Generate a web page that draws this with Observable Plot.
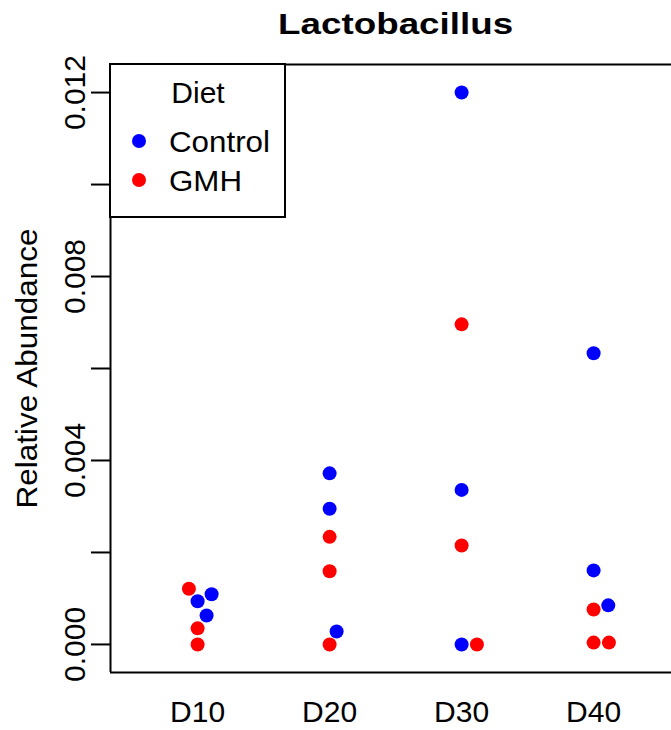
<!DOCTYPE html>
<html>
<head>
<meta charset="utf-8">
<script src="https://cdn.jsdelivr.net/npm/d3@7"></script>
<script src="https://cdn.jsdelivr.net/npm/@observablehq/plot@0.6"></script>
<style>
  html, body { margin: 0; padding: 0; background: #fff; }
  #chart svg { display: block; }
</style>
</head>
<body>
<div id="chart"></div>
<script>
// Lactobacillus relative abundance by sampling day and diet (strip chart)
const days = ["D10", "D20", "D30", "D40"];
const diets = ["Control", "GMH"];
const dietColors = ["#0000ff", "#ff0000"];

// Control group: day, relative abundance, horizontal jitter (category units)
const controlDays   = ["D10", "D10", "D10", "D20", "D20", "D20", "D30", "D30", "D30", "D40", "D40", "D40"];
const controlValues = [0.00109, 0.00094, 0.00063, 0.00372, 0.00295, 0.00028, 0.01200, 0.00336, 0.00000, 0.00633, 0.00161, 0.00085];
const controlJitter = [0.106, 0, 0.068, 0, 0, 0.053, 0, 0, 0, 0, 0, 0.111];

// GMH group
const gmhDays   = ["D10", "D10", "D10", "D20", "D20", "D20", "D30", "D30", "D30", "D40", "D40", "D40"];
const gmhValues = [0.00121, 0.00035, 0.00000, 0.00234, 0.00159, 0.00000, 0.00696, 0.00215, 0.00000, 0.00076, 0.00004, 0.00004];
const gmhJitter = [-0.066, 0, 0, 0, 0, 0, 0, 0, 0.116, 0, 0, 0.116];

// y axis ticks and the subset that carries labels
const yTicks = [0, 0.002, 0.004, 0.006, 0.008, 0.010, 0.012];
const yLabels = [0, 0.004, 0.008, 0.012];

const title = "Lactobacillus";
const yTitle = "Relative Abundance";
const legendTitle = "Diet";

const FONT = "'Liberation Sans', Arial, Helvetica, sans-serif";
const fmt = d3.format(".3f");
const xDomain = [0.34, 4.59];
const yDomain = [-0.00061, 0.01261];

const rows = [
  ...controlValues.map((v, i) => ({diet: "Control", day: controlDays[i], value: v, jitter: controlJitter[i]})),
  ...gmhValues.map((v, i) => ({diet: "GMH", day: gmhDays[i], value: v, jitter: gmhJitter[i]}))
];
rows.forEach(d => { d.pos = days.indexOf(d.day) + 1 + d.jitter; });

const chart = Plot.plot({
  width: 671,
  height: 730,
  marginTop: 64,
  marginRight: 0,
  marginBottom: 58,
  marginLeft: 110,
  style: {fontFamily: FONT, fontSize: "30px", color: "#000", background: "#fff"},
  x: {type: "linear", domain: xDomain, axis: null},
  y: {domain: yDomain, axis: null},
  color: {domain: diets, range: dietColors},
  marks: [
    // plot box (top, bottom, left)
    Plot.ruleY([yDomain[0], yDomain[1]], {stroke: "#000", strokeWidth: 2}),
    Plot.ruleX([xDomain[0]], {stroke: "#000", strokeWidth: 2}),
    // y tick marks hanging off the left side of the box
    Plot.ruleY(yTicks, {x1: xDomain[0], x2: xDomain[0], insetLeft: -19, stroke: "#000", strokeWidth: 2}),
    // y tick labels, rotated like base R
    Plot.text(yLabels, {
      y: d => d, text: d => fmt(d), frameAnchor: "left", rotate: -90,
      dx: -26, textAnchor: "middle", lineAnchor: "bottom", fontSize: 30, fill: "#000"
    }),
    // y axis title
    Plot.text([yTitle], {
      frameAnchor: "left", rotate: -90, dx: -74, textAnchor: "middle",
      lineAnchor: "bottom", fontSize: 30, fill: "#000"
    }),
    // day labels
    Plot.text(days, {
      x: (d, i) => i + 1, text: d => d, frameAnchor: "bottom", dy: 49,
      lineAnchor: "bottom", fontSize: 30, fill: "#000"
    }),
    // chart title, centred over the category span
    Plot.text([title], {
      x: (1 + days.length) / 2, frameAnchor: "top", dy: -30.5, lineAnchor: "bottom",
      fontWeight: "bold", fontSize: 29, fill: "#000"
    }),
    // observations
    Plot.dot(rows, {x: "pos", y: "value", fill: "diet", r: 7, stroke: null})
  ]
});

document.getElementById("chart").append(chart);

const svg = d3.select(chart);
const color = chart.scale("color");
const frameLeft = chart.scale("x").apply(xDomain[0]);
const frameTop = chart.scale("y").apply(yDomain[1]);

// widen a few strings to the spacing of the original device font
const widen = (str, len) => svg.selectAll("text")
  .filter(function () { return this.textContent === str; })
  .attr("textLength", len).attr("lengthAdjust", "spacingAndGlyphs");
widen(title, 235);
widen(yTitle, 280);

// legend box in the top-left corner of the plot
const legend = svg.append("g").attr("transform", `translate(${frameLeft},${frameTop})`)
  .attr("font-family", FONT).attr("font-size", 30);
legend.append("rect")
  .attr("x", 0).attr("y", 0).attr("width", 175).attr("height", 153)
  .attr("fill", "#fff").attr("stroke", "#000").attr("stroke-width", 2);
legend.append("text")
  .attr("x", 88).attr("y", 39).attr("text-anchor", "middle").attr("fill", "#000")
  .text(legendTitle);
const legendWidths = [101, 73];
diets.forEach((name, i) => {
  const cy = 77 + i * 39;
  legend.append("circle").attr("cx", 29).attr("cy", cy).attr("r", 7).attr("fill", color.apply(name));
  legend.append("text").attr("x", 59).attr("y", cy + 11).attr("text-anchor", "start")
    .attr("fill", "#000").attr("textLength", legendWidths[i]).attr("lengthAdjust", "spacingAndGlyphs")
    .text(name);
});
</script>
</body>
</html>
